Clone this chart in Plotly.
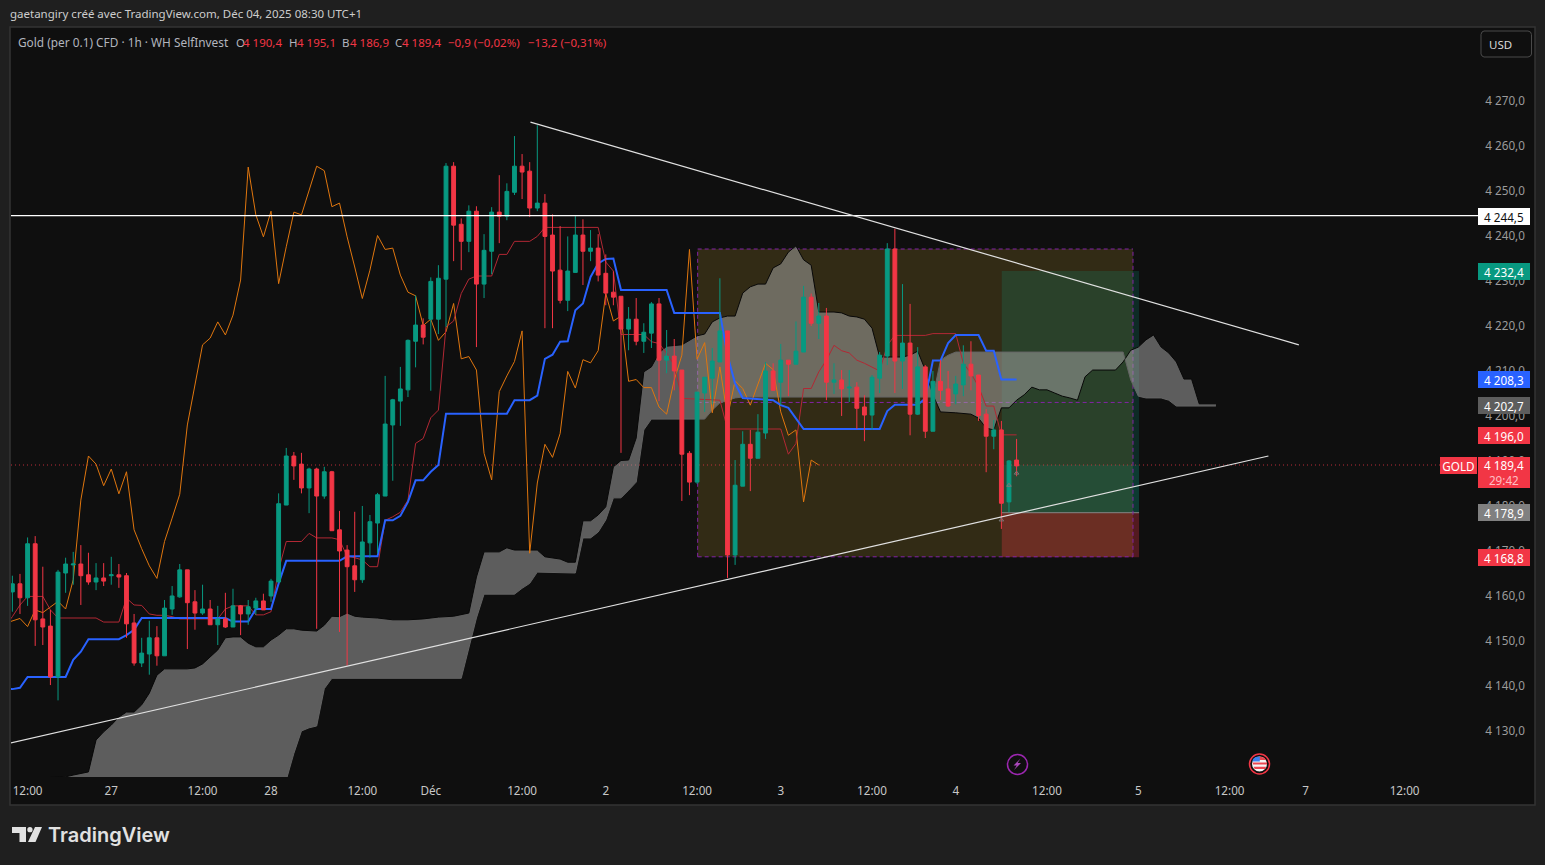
import plotly.graph_objects as go

# ---------- data ----------
bar_index = list(range(-2, 131))
opens = [4160.8,4162.6,4159.5,4171.5,4154.8,4153.2,4141.9,4165.0,4166.8,4167.0,
 4164.6,4163.0,4163.9,4164.4,4164.6,4164.4,4153.9,4145.0,4147.0,4150.6,
 4146.6,4157.0,4159.7,4165.7,4158.6,4156.1,4157.0,4153.5,4154.8,4153.0,
 4157.7,4155.9,4157.2,4158.8,4159.9,4163.0,4180.1,4191.0,4189.2,4183.9,
 4188.1,4182.1,4187.5,4174.6,4170.1,4166.6,4163.5,4171.7,4176.1,4182.1,
 4197.9,4203.2,4205.7,4216.5,4220.1,4221.4,4221.4,4230.3,4255.4,4242.5,
 4238.7,4245.4,4229.2,4236.5,4245.2,4244.3,4249.6,4255.4,4254.3,4246.1,
 4247.2,4240.1,4232.3,4225.6,4231.8,4240.1,4236.5,4237.2,4231.6,4227.4,
 4226.5,4219.2,4221.4,4216.5,4218.3,4224.8,4212.3,4213.2,4210.1,4191.6,
 4185.2,4205.0,4208.3,4211.9,4218.8,4169.0,4184.3,4193.6,4190.5,4196.1,
 4209.9,4207.4,4212.3,4211.4,4214.1,4226.3,4220.5,4222.1,4207.4,4207.9,
 4206.1,4206.3,4201.9,4200.1,4208.3,4213.2,4237.0,4212.1,4216.1,4200.3,
 4210.8,4196.5,4207.6,4205.9,4204.8,4206.8,4211.4,4209.0,4200.3,4195.4,
 4196.8,4180.8,4190.1]
closes = [4162.6,4159.5,4171.5,4154.6,4153.0,4141.9,4165.2,4167.0,4167.0,4164.4,
 4163.0,4163.9,4163.2,4164.6,4164.1,4153.7,4145.0,4147.2,4150.6,4146.6,
 4157.2,4159.9,4165.7,4158.4,4156.1,4157.0,4153.5,4154.8,4153.0,4157.7,
 4155.9,4157.5,4158.8,4156.8,4163.2,4180.4,4191.0,4188.8,4183.9,4188.1,
 4182.1,4187.5,4174.4,4169.9,4166.4,4163.5,4171.9,4176.4,4182.4,4198.1,
 4203.5,4205.9,4216.7,4220.1,4217.4,4229.8,4230.5,4255.4,4242.3,4238.7,
 4245.4,4229.2,4236.7,4245.2,4244.3,4249.8,4255.4,4254.1,4246.1,4247.2,
 4239.8,4232.1,4225.6,4232.1,4240.1,4236.5,4237.2,4231.2,4227.2,4226.3,
 4219.2,4221.4,4216.5,4218.5,4224.8,4212.3,4213.2,4209.9,4191.4,4185.2,
 4205.2,4208.5,4212.1,4218.8,4169.0,4184.5,4193.6,4190.5,4196.3,4209.9,
 4205.6,4212.3,4211.4,4214.3,4226.3,4220.5,4222.1,4207.4,4207.9,4205.9,
 4206.3,4201.6,4200.1,4208.5,4213.4,4237.0,4212.1,4216.1,4200.3,4210.8,
 4196.5,4207.6,4205.6,4202.1,4207.0,4211.4,4208.8,4200.0,4195.4,4196.8,
 4180.5,4189.9,4188.8]
highs = [4164.4,4164.8,4172.9,4173.2,4166.4,4156.8,4165.7,4168.4,4169.7,4171.2,
 4169.5,4167.2,4167.2,4168.6,4167.0,4165.0,4155.9,4150.6,4154.4,4153.2,
 4159.0,4162.1,4167.0,4165.7,4161.2,4162.4,4159.0,4157.7,4160.6,4161.5,
 4157.9,4159.0,4159.5,4160.4,4163.7,4182.7,4192.8,4191.9,4191.7,4188.4,
 4188.4,4188.6,4187.7,4178.8,4171.2,4178.6,4179.9,4177.9,4182.8,4208.8,
 4203.7,4210.8,4216.9,4226.7,4221.6,4230.7,4233.4,4256.1,4256.3,4243.8,
 4246.7,4246.5,4240.3,4246.3,4253.4,4251.6,4262.1,4258.1,4256.3,4264.5,
 4249.2,4244.7,4242.1,4239.8,4244.3,4243.6,4241.2,4240.3,4235.8,4232.0,
 4226.5,4224.1,4226.1,4220.5,4225.2,4226.1,4219.0,4217.0,4210.1,4192.1,
 4205.2,4208.5,4215.0,4230.5,4218.8,4190.1,4196.5,4196.8,4200.3,4211.9,
 4211.6,4215.9,4212.3,4220.9,4228.8,4227.1,4225.0,4223.9,4211.6,4210.1,
 4210.1,4207.4,4204.5,4209.0,4214.1,4238.3,4241.5,4229.2,4224.8,4215.2,
 4211.2,4209.9,4212.3,4209.9,4208.8,4215.6,4216.5,4209.0,4201.4,4199.0,
 4198.8,4190.1,4194.8]
lows = [4156.4,4155.9,4157.7,4148.8,4149.0,4140.1,4136.7,4160.6,4162.4,4157.9,
 4162.4,4161.2,4162.1,4162.4,4161.7,4150.6,4144.4,4144.1,4142.4,4144.4,
 4146.6,4155.7,4159.5,4148.1,4152.4,4155.7,4153.5,4149.0,4152.8,4153.0,
 4151.2,4153.5,4155.7,4156.8,4158.6,4163.0,4180.1,4185.7,4182.7,4178.3,
 4152.6,4181.5,4174.4,4151.9,4144.4,4160.8,4162.8,4168.4,4169.4,4182.1,
 4185.5,4197.7,4204.1,4210.7,4215.8,4205.5,4218.1,4219.7,4234.3,4232.3,
 4236.3,4215.2,4226.1,4231.4,4238.3,4243.4,4249.0,4248.1,4244.1,4245.4,
 4219.4,4219.4,4224.9,4223.2,4231.8,4229.0,4234.3,4229.8,4224.5,4224.5,
 4191.7,4214.5,4215.6,4213.9,4215.0,4203.2,4209.4,4205.6,4181.0,4182.3,
 4184.8,4200.8,4202.5,4211.9,4163.9,4166.8,4184.3,4183.2,4190.5,4194.8,
 4205.6,4202.3,4204.3,4211.4,4214.1,4219.9,4217.0,4203.4,4204.8,4199.9,
 4203.0,4197.0,4194.3,4196.8,4205.0,4211.2,4205.0,4205.9,4195.6,4200.1,
 4195.0,4196.5,4203.4,4201.9,4202.5,4204.3,4205.6,4198.8,4187.4,4192.5,
 4174.8,4178.5,4186.5]

blue_idx = [-3,-2,-1,0,5,6,7,8,12,13,14,15,26,27,29,30,32,33,34,41,42,46,47,48,49,50,51,52,53,54,55,63,64,66,67,68,69,70,71,72,73,74,75,76,77,78,84,85,91,92,93,94,98,99,100,101,102,112,113,114,117,118,119,120,121,122,125,126,127,128,130]
blue_vals = [4139.2,4139.2,4139.5,4141.9,4141.9,4145.7,4147.5,4150.3,4150.3,4151.2,4152.4,4155.0,4155.0,4154.2,4154.2,4157.0,4157.0,4162.7,4167.7,4167.7,4168.7,4168.7,4176.7,4176.7,4177.7,4180.8,4185.6,4185.6,4187.5,4189.0,4200.4,4200.4,4203.4,4203.4,4204.4,4212.6,4213.5,4216.4,4216.5,4223.4,4224.9,4230.8,4233.8,4234.8,4234.9,4227.9,4227.9,4222.8,4222.8,4213.4,4207.1,4203.9,4203.4,4202.3,4201.7,4199.3,4197.0,4197.0,4201.0,4202.4,4202.4,4203.8,4212.2,4212.2,4216.1,4217.9,4217.9,4214.4,4214.4,4208.0,4208.0]

red_idx = [-3,-2,-1,0,2,3,4,9,10,12,13,14,15,16,17,18,19,20,25,26,27,29,30,31,32,33,34,36,37,38,40,41,42,43,44,45,46,47,48,49,50,51,52,53,54,55,56,57,58,59,61,62,63,64,66,67,68,75,76,77,78,81,82,83,84,85,86,91,92,99,100,101,102,103,104,105,106,107,108,109,110,111,112,113,114,118,119,122,123,124,125,126,127,128,130]
red_vals = [4153.1,4155.3,4157.9,4159.8,4159.8,4156.8,4155.0,4155.0,4154.1,4154.1,4159.4,4157.9,4157.8,4155.9,4155.6,4155.6,4155.3,4154.8,4154.8,4157.0,4157.7,4157.7,4155.7,4155.7,4156.4,4165.7,4172.0,4172.0,4173.8,4172.8,4172.8,4172.4,4168.7,4168.4,4167.9,4166.4,4166.4,4176.7,4177.5,4178.5,4181.2,4193.8,4194.9,4199.5,4201.2,4219.7,4221.0,4227.1,4230.3,4231.0,4231.0,4235.8,4235.8,4238.7,4238.7,4239.8,4241.8,4241.8,4234.1,4232.1,4218.0,4218.0,4216.4,4216.0,4213.8,4211.2,4203.8,4203.4,4197.0,4197.0,4191.4,4193.8,4206.0,4206.0,4209.7,4212.3,4215.6,4214.4,4213.9,4212.3,4211.6,4210.8,4209.9,4215.6,4217.8,4217.8,4218.2,4218.2,4211.6,4209.4,4206.4,4202.1,4202.1,4195.7,4195.7]

lag_idx = list(range(-3, 105))
lag_vals = [4153.8,4154.4,4154.9,4153.1,4156.8,4156.2,4157.5,4158.7,4157.0,4163.5,4181.2,4191.0,4189.2,4184.4,4188.1,4182.6,4187.5,4174.6,4170.4,4166.6,4163.8,4172.0,4177.2,4182.5,
 4197.9,4206.8,4215.7,4217.2,4220.8,4217.9,4222.3,4230.1,4255.2,4244.6,4239.7,4245.4,4229.3,4237.5,4245.2,4244.6,4250.0,4255.4,4254.4,4246.4,4247.2,4239.7,4233.0,4226.0,4232.3,4240.0,4236.9,4237.2,4231.2,4227.4,4226.6,4220.0,4221.4,4216.7,4218.6,4224.9,4212.6,4213.1,4210.1,4191.6,4185.7,4205.3,4208.8,4212.0,4218.8,4169.4,4185.0,4193.6,4190.7,4196.0,4209.8,4206.1,4212.4,4211.7,4214.4,4227.1,4221.0,4222.1,4207.6,4208.0,4206.2,4206.2,4201.9,4200.3,4207.9,4213.4,4236.9,4212.5,4216.2,4200.6,4210.8,4199.7,4207.7,4206.0,4202.3,4207.1,4211.6,4210.2,4200.8,4195.6,4196.8,4180.8,4190.1,4189.0]

span_a_idx = [2,5,6,8,9,10,11,12,13,14,15,16,17,18,21,22,23,24,25,26,27,28,29,30,31,32,33,34,35,36,38,39,40,41,42,43,44,46,48,50,52,54,56,58,59,60,62,63,64,67,68,70,71,72,73,74,75,76,77,78,79,80,81,82,83,84,86,88,89,90,91,92,93,94,95,96,97,98,99,100,101,102,103,104,106,107,108,109,110,111,112,115,116,117,118,119,120,122,124,125,126,127,128,129,130,131,132,133,134,135,136,137,138,139,140,143,144,145,146,147,148,149,150,151,152,153,154,156.2]
span_a_vals = [4119.5,4119.7,4120.1,4120.8,4127.9,4129.7,4131.2,4133.0,4134.1,4134.1,4135.7,4138.3,4142.3,4143.7,4143.7,4143.9,4144.8,4146.3,4147.9,4150.6,4150.8,4150.8,4149.4,4148.6,4148.6,4150.1,4151.2,4152.6,4152.6,4152.3,4152.1,4153.4,4155.4,4155.3,4156.1,4155.4,4155.2,4155.0,4154.6,4154.6,4154.8,4155.2,4155.4,4156.1,4164.1,4169.7,4169.7,4170.6,4170.1,4170.1,4168.6,4168.1,4167.4,4167.4,4176.6,4176.6,4177.9,4179.7,4188.6,4190.0,4190.1,4195.0,4209.7,4210.8,4213.9,4215.4,4215.7,4217.7,4218.1,4220.8,4221.7,4222.1,4222.1,4227.2,4228.6,4229.2,4229.2,4232.8,4233.7,4236.3,4237.7,4234.6,4233.4,4223.0,4223.0,4222.8,4222.1,4221.9,4221.4,4219.4,4213.0,4213.0,4213.4,4214.3,4210.1,4204.6,4200.8,4200.6,4200.3,4199.4,4197.2,4196.8,4201.7,4201.7,4203.4,4204.6,4206.3,4205.7,4205.7,4205.0,4204.3,4203.9,4203.4,4208.6,4210.1,4210.1,4211.9,4214.5,4215.2,4216.8,4217.9,4215.2,4213.9,4211.9,4208.1,4208.1,4202.6,4202.6]
span_b_idx = [2,34,35,36,37,38,39,40,57,58,59,60,64,65,66,67,72,73,74,75,76,77,78,79,80,81,82,89,90,91,92,93,94,119,120,121,122,144,145,146,147,149,150,151,156.2]
span_b_vals = [4115.0,4119.0,4124.9,4129.9,4130.6,4131.0,4139.3,4141.6,4141.6,4148.3,4155.0,4160.3,4160.3,4161.6,4162.7,4165.2,4165.0,4172.8,4172.8,4174.1,4176.8,4181.7,4181.7,4183.4,4185.2,4196.8,4199.2,4199.2,4201.2,4202.8,4203.4,4203.9,4204.1,4204.1,4212.3,4213.4,4214.1,4214.1,4207.9,4204.3,4203.9,4203.9,4203.4,4202.1,4202.1]

marker_idx = [128, 129, 130]
marker_vals = [4176.8, 4184.5, 4187.2]

y_ticks = list(range(4130, 4280, 10))
y_tick_labels = [f"{v//1000}\u00a0{v%1000:03d},0" for v in y_ticks]
x_ticks = [0, 11, 23, 32, 44, 53, 65, 76, 88, 99, 111, 122, 134, 146, 158, 168, 181]
x_tick_labels = ["12:00","27","12:00","28","12:00","Déc","12:00","2","12:00","3","12:00","4","12:00","5","12:00","7","12:00"]

x_range = [-2.18, 190.65]
y_range = [4119.67, 4286.11]

h_level = 4244.4
last_price = 4189.0
zone_box = dict(i0=88.08, i1=145.3, top=4237.0, mid=4202.9, bot=4168.6)
pos_box = dict(i0=128.05, i1=146.1, target=4232.1, entry=4178.4, stop=4168.5)
trend_down = dict(i0=66.1, p0=4265.2, i1=167.1, p1=4215.7)
trend_up = dict(i0=-2.3, p0=4127.2, i1=163.1, p1=4191.0)

# ---------- colours / helpers ----------
GREEN = "rgb(8,153,129)"; RED = "rgb(242,54,69)"; BLUE = "rgb(41,98,255)"
FONT = "Noto Sans"
L, R, T, B = 11, 1478, 28, 777
W_, H_ = 1545, 865
X = lambda px: (px - L) / (R - L)
Y = lambda py: (B - py) / (B - T)

fig = go.Figure()
skip = dict(hoverinfo="skip", showlegend=False)
fig.add_trace(go.Scatter(x=span_a_idx, y=span_a_vals, mode="lines", line=dict(color="rgb(8,8,8)", width=1), **skip))
fig.add_trace(go.Scatter(x=span_b_idx, y=span_b_vals, mode="lines", line=dict(color="rgb(100,100,100)", width=1),
                         fill="tonexty", fillcolor="rgba(168,168,168,0.51)", **skip))
fig.add_trace(go.Scatter(x=lag_idx, y=lag_vals, mode="lines", line=dict(color="rgb(224,118,14)", width=1), **skip))
fig.add_trace(go.Scatter(x=red_idx, y=red_vals, mode="lines", line=dict(color="rgb(178,40,52)", width=1), **skip))
fig.add_trace(go.Scatter(x=blue_idx, y=blue_vals, mode="lines", line=dict(color=BLUE, width=2), **skip))
fig.add_trace(go.Candlestick(x=bar_index, open=opens, high=highs, low=lows, close=closes,
                             xaxis="x2", yaxis="y2", showlegend=False, hoverinfo="skip",
                             whiskerwidth=0,
                             increasing=dict(line=dict(color=GREEN, width=1), fillcolor=GREEN),
                             decreasing=dict(line=dict(color=RED, width=1), fillcolor=RED)))
fig.add_trace(go.Scatter(x=marker_idx, y=marker_vals, mode="markers", xaxis="x2", yaxis="y2",
                         marker=dict(symbol="triangle-up-open", size=4, color="rgb(120,120,120)", line=dict(width=1)), **skip))

shapes = []
def pshape(px0, py0, px1, py1, fill, line=None, lw=0, kind="rect", layer="below"):
    shapes.append(dict(type=kind, xref="paper", yref="paper", x0=X(px0), x1=X(px1), y0=Y(py0), y1=Y(py1),
                       fillcolor=fill, line=dict(color=line or fill, width=lw), layer=layer))
def ppath(pts, fill, layer="above", line=None, lw=0):
    d = "M" + " L".join(f"{X(a):.5f},{Y(b):.5f}" for a, b in pts) + " Z"
    shapes.append(dict(type="path", xref="paper", yref="paper", path=d, fillcolor=fill,
                       line=dict(color=line or fill, width=lw), layer=layer))

# chart frame
pshape(10, 27, 1535, 805, "rgb(15,15,15)", "rgb(52,52,52)", 1.5)

# zone box and position boxes (drawn under cloud and candles)
PURPLE = "rgb(130,35,165)"
def dline(i0, p0, i1, p1, color, width=1, dash="solid", layer="below"):
    shapes.append(dict(type="line", xref="x", yref="y", x0=i0, x1=i1, y0=p0, y1=p1,
                       line=dict(color=color, width=width, dash=dash), layer=layer))
def drect(i0, p0, i1, p1, fill):
    shapes.append(dict(type="rect", xref="x", yref="y", x0=i0, x1=i1, y0=p0, y1=p1,
                       fillcolor=fill, line=dict(width=0), layer="below"))
z = zone_box; p = pos_box
drect(z["i0"], z["bot"], z["i1"], z["top"], "rgba(245,200,60,0.155)")
drect(p["i0"], p["entry"], p["i1"], p["target"], "rgba(8,153,129,0.2)")
drect(p["i0"], p["entry"], p["i1"], last_price, "rgba(8,153,129,0.14)")
drect(p["i0"], p["stop"], p["i1"], p["entry"], "rgba(242,54,69,0.3)")
dline(p["i0"], p["entry"], p["i1"], p["entry"], "rgb(135,135,135)")
for a, b, c, d in [(z["i0"], z["top"], z["i1"], z["top"]), (z["i0"], z["mid"], z["i1"], z["mid"]),
                   (z["i0"], z["bot"], z["i1"], z["bot"]), (z["i0"], z["bot"], z["i0"], z["top"]),
                   (z["i1"], z["bot"], z["i1"], z["top"])]:
    dline(a, b, c, d, PURPLE, 1, "4px,3px")
dline(x_range[0], last_price, 185.9, last_price, "rgba(242,54,69,0.75)", 1, "1px,3px")
# hand-drawn lines on top
dline(x_range[0], h_level, x_range[1], h_level, "rgb(255,255,255)", 1.3, "solid", "above")
dline(trend_down["i0"], trend_down["p0"], trend_down["i1"], trend_down["p1"], "rgb(225,225,225)", 1.2, "solid", "above")
dline(trend_up["i0"], trend_up["p0"], trend_up["i1"], trend_up["p1"], "rgb(225,225,225)", 1.2, "solid", "above")

# USD button (rounded outline)
ppath([(1484, 31), (1528, 31), (1530.5, 32), (1531.5, 34.5), (1531.5, 54), (1530.5, 56), (1528, 57),
       (1484, 57), (1482, 56), (1481, 54), (1481, 34.5), (1482, 32)], "rgb(15,15,15)", "above", "rgb(74,74,74)", 1)

# event icons
pshape(1007.5, 754.5, 1027.5, 774.5, "rgba(0,0,0,0)", "rgb(156,39,176)", 1.5, "circle", "above")
ppath([(1020.5, 758.5), (1013.5, 765.5), (1016.8, 765.5), (1014, 770), (1021, 763), (1017.6, 763)], "rgb(171,71,188)")
pshape(1249.5, 754, 1269.5, 774, "rgb(15,15,15)", "rgb(242,54,69)", 1.5, "circle", "above")
pshape(1252, 756.5, 1267, 771.5, "rgb(245,245,245)", None, 0, "circle", "above")
ppath([(1259, 756.6), (1264, 757.5), (1266, 760), (1259, 760)], "rgb(235,70,80)")
ppath([(1252.8, 762.5), (1267, 762.5), (1267, 764.5), (1252.8, 764.5)], "rgb(235,70,80)")
ppath([(1253.5, 766.8), (1266.2, 766.8), (1265, 769), (1254.7, 769)], "rgb(235,70,80)")
ppath([(1252.4, 761.6), (1253, 759), (1255.5, 757), (1259.8, 756.5), (1259.8, 761.6)], "rgb(60,130,240)")

# logo
LOGO = "rgb(225,225,225)"
ppath([(12, 827), (26, 827), (26, 842), (19.5, 842), (19.5, 833), (12, 833)], LOGO)
pshape(27.3, 827, 32.6, 832.3, LOGO, None, 0, "circle", "above")
ppath([(35, 827), (42, 827), (35.5, 842), (28, 842)], LOGO)

# ---------- text ----------
ann = []
def text(px, py, s, size=12, color="rgb(200,200,200)", anchor="left", weight=None, family=FONT):
    f = dict(family=family, size=size, color=color)
    if weight: f["weight"] = weight
    ann.append(dict(xref="paper", yref="paper", x=X(px), y=Y(py), text=s, showarrow=False,
                    xanchor=anchor, yanchor="middle", font=f, align="left", borderpad=0))
def badge(px0, px1, py0, py1, s, bg, color="white", size=11.7):
    ann.append(dict(xref="paper", yref="paper", x=X(px0), y=Y(py0), text=s, showarrow=False, xanchor="left", yanchor="top",
                    width=px1 - px0, height=py1 - py0, bgcolor=bg, borderpad=0, borderwidth=0, align="center", valign="middle",
                    font=dict(family=FONT, size=size, color=color)))

text(9, 14, "gaetangiry créé avec TradingView.com, Déc 04, 2025 08:30 UTC+1", 11.5, "rgb(205,205,205)")
LEG = "rgb(178,181,190)"
text(17, 42, "Gold (per 0.1) CFD · 1h · WH SelfInvest", 11.85, LEG)
for lx, lab, vx, val in [(234.5, "O", 242, "4\u00a0190,4"), (288, "H", 296, "4\u00a0195,1"),
                         (341, "B", 349, "4\u00a0186,9"), (394, "C", 401, "4\u00a0189,4")]:
    text(lx, 42, lab, 11.5, LEG)
    text(vx, 42, val, 11.5, RED)
text(447, 42, "−0,9 (−0,02%)", 11.5, RED)
text(527, 42, "−13,2 (−0,31%)", 11.5, RED)
text(1488, 44, "USD", 11.5, "rgb(215,215,215)")
text(47, 835, "TradingView", 20, LOGO, weight=600, family="Inter")

badge(1478, 1530, 208, 225, "4\u00a0244,5", "rgb(255,255,255)", "rgb(15,15,15)")
badge(1478, 1530, 263, 280, "4\u00a0232,4", GREEN)
badge(1478, 1530, 371, 388, "4\u00a0208,3", BLUE)
badge(1478, 1530, 397, 414, "4\u00a0202,7", "rgb(93,93,93)")
badge(1478, 1530, 427, 444, "4\u00a0196,0", RED)
badge(1478, 1530, 457, 488, "4\u00a0189,4<br><span style='color:rgb(255,190,195)'>29:42</span>", RED)
badge(1478, 1530, 504, 521, "4\u00a0178,9", "rgb(128,128,128)")
badge(1478, 1530, 549, 566, "4\u00a0168,8", RED)
badge(1440, 1477, 457, 474, "GOLD", RED)

axis_common = dict(showgrid=False, zeroline=False, showline=False)
fig.update_layout(
    width=W_, height=H_, autosize=False,
    margin=dict(l=L, r=W_ - R, t=T, b=H_ - B, pad=0),
    paper_bgcolor="rgb(31,31,31)", plot_bgcolor="rgb(15,15,15)",
    showlegend=False, boxgap=0.28, shapes=shapes, annotations=ann, dragmode=False,
    xaxis=dict(range=x_range, tickvals=x_ticks, ticktext=x_tick_labels, ticks="outside", ticklen=3,
               tickcolor="rgba(0,0,0,0)", tickfont=dict(family=FONT, size=11.7, color="rgb(200,200,200)"),
               rangeslider=dict(visible=False), **axis_common),
    yaxis=dict(range=y_range, side="right", tickvals=y_ticks, ticktext=y_tick_labels, ticks="outside", ticklen=4,
               tickcolor="rgba(0,0,0,0)", tickfont=dict(family=FONT, size=11.7, color="rgb(155,155,155)"), **axis_common),
    xaxis2=dict(range=x_range, overlaying="x", visible=False, rangeslider=dict(visible=False), **axis_common),
    yaxis2=dict(range=y_range, overlaying="y", visible=False, side="right", **axis_common),
)
fig.write_html("out.html", config=dict(displayModeBar=False),
               post_script="document.body.style.margin='0';document.body.style.overflow='hidden';document.body.style.background='rgb(31,31,31)';")
